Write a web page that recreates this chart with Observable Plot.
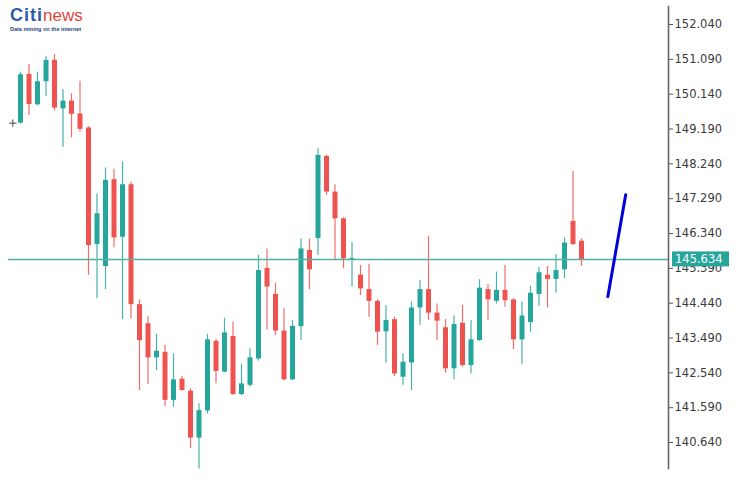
<!DOCTYPE html>
<html><head><meta charset="utf-8">
<script src="https://cdn.jsdelivr.net/npm/d3@7"></script>
<script src="https://cdn.jsdelivr.net/npm/@observablehq/plot@0.6"></script>
<style>
body{margin:0;background:#fff}
#wrap{position:relative;width:747px;height:480px}
#logo{position:absolute;left:10px;top:6px;font-family:"Liberation Sans",Arial,sans-serif;z-index:2;line-height:1}
#logo .t{white-space:nowrap}
#logo .citi{color:#2a5ca8;font-weight:bold;font-size:18px;letter-spacing:1px}
#logo .news{color:#e4433b;font-size:17px}
#logo .sub{font-size:5.5px;color:#24467c;font-weight:bold;margin-top:3px;white-space:nowrap}
</style></head>
<body>
<div id="wrap">
  <div id="logo"><div class="t"><span class="citi">Citi</span><span class="news">news</span></div><div class="sub">Data mining on the internet</div></div>
</div>
<script>
const opens  = [149.35,150.68,149.85,150.48,151.06,149.74,149.95,149.60,149.22,146.04,145.44,147.81,146.24,147.67,144.40,143.88,142.95,143.10,141.79,142.37,142.04,140.76,141.50,143.40,142.56,143.53,141.95,142.20,142.92,145.39,144.68,143.68,142.35,143.80,145.88,146.20,148.44,147.47,146.74,145.62,145.21,144.81,144.49,143.66,143.99,142.42,142.81,144.31,144.81,144.17,143.77,142.65,143.89,142.74,143.42,144.81,144.49,144.79,144.53,143.44,143.91,144.68,145.20,145.09,145.35,146.67,146.13];
const highs  = [150.74,150.95,150.74,151.17,151.22,150.27,150.15,150.49,149.25,147.42,148.13,148.09,148.29,147.74,144.53,144.08,143.59,143.29,143.06,142.44,142.11,141.70,143.59,143.45,144.03,143.92,142.77,143.20,145.74,145.92,144.99,144.29,143.97,146.19,146.19,148.65,148.48,147.67,146.77,146.10,145.47,145.50,144.53,144.38,144.06,143.06,144.47,145.06,146.27,144.42,143.99,144.10,144.38,143.97,145.08,144.95,145.29,145.47,144.56,144.47,144.90,145.41,145.44,145.77,146.22,148.04,146.20];
const lows   = [149.32,149.56,149.82,150.08,149.68,148.69,148.95,149.10,145.20,144.56,144.81,145.95,143.99,144.01,142.06,142.22,142.60,141.62,141.60,142.04,140.47,139.92,141.42,142.24,142.54,141.92,141.92,142.15,142.86,143.71,143.56,142.33,142.33,143.42,144.81,145.74,147.38,145.60,145.38,144.88,144.65,144.06,143.29,142.80,142.44,142.20,142.06,143.83,143.97,143.42,142.53,142.35,142.69,142.51,143.40,143.97,144.42,144.33,143.17,142.77,143.65,144.36,144.31,144.71,145.11,146.01,145.44];
const closes = [150.67,149.86,150.48,151.06,149.76,149.95,149.59,149.18,146.01,146.88,147.79,146.22,147.67,144.40,143.42,142.95,143.13,141.79,142.35,142.06,140.76,141.51,143.44,142.58,143.63,141.95,142.24,142.95,145.33,144.88,143.68,142.35,143.81,145.92,145.35,148.47,147.47,146.74,145.65,145.66,144.83,144.49,143.65,143.97,142.51,142.83,144.31,144.81,144.17,143.95,142.65,143.86,142.74,143.44,144.85,144.53,144.79,144.51,143.44,144.09,144.71,145.27,145.09,145.33,146.08,146.04,145.634];
const priceTicks = [140.64,141.59,142.54,143.49,144.44,145.39,146.34,147.29,148.24,149.19,150.14,151.09,152.04];
const currentPrice = 145.634;
const trendX = [69.1, 71.2];
const trendY = [144.62, 147.40];
const markerX = [-0.9];
const markerY = [149.35];

const candles = opens.map((o, i) => ({i, open: o, high: highs[i], low: lows[i], close: closes[i]}));
const up = candles.filter(d => d.close >= d.open);
const down = candles.filter(d => d.close < d.open);
const trend = trendX.map((x, k) => ({x, y: trendY[k]}));
const marker = markerX.map((x, k) => ({x, y: markerY[k]}));

const GREEN = "#26a69a", RED = "#ef5350";

const priceLabel = (index, scales, values, dimensions) => {
  const y = scales.y(currentPrice);
  const x0 = dimensions.width - dimensions.marginRight + 4;
  const g = d3.create("svg:g");
  g.append("rect").attr("x", x0).attr("y", y - 7.5).attr("width", 57).attr("height", 15).attr("fill", "#26a69a");
  g.append("text").attr("x", x0 + 3).attr("y", y).attr("dy", "0.35em")
    .attr("text-anchor", "start")
    .attr("fill", "#fff").attr("font-family", "DejaVu Sans").attr("font-size", 11.5)
    .text(currentPrice.toFixed(3));
  return g.node();
};

const chart = Plot.plot({
  width: 747,
  height: 480,
  marginLeft: 8,
  marginRight: 79,
  marginTop: 6,
  marginBottom: 12,
  style: {background: "#fff", fontFamily: "DejaVu Sans", fontSize: "11.5px", color: "#3a3a3a"},
  x: {domain: [-1.412, 76.235], axis: null},
  y: {domain: [139.932, 152.531], axis: null},
  marks: [
    Plot.ruleX(up, {x: "i", y1: "low", y2: "high", stroke: GREEN, strokeWidth: 1.2, strokeOpacity: 0.85}),
    Plot.ruleX(down, {x: "i", y1: "low", y2: "high", stroke: RED, strokeWidth: 1.2, strokeOpacity: 0.85}),
    Plot.ruleX(up, {x: "i", y1: "open", y2: "close", stroke: GREEN, strokeWidth: 5}),
    Plot.ruleX(down, {x: "i", y1: "open", y2: "close", stroke: RED, strokeWidth: 5}),
    Plot.ruleY([currentPrice], {stroke: "#4fb0a8", strokeWidth: 1.5}),
    Plot.line(trend, {x: "x", y: "y", stroke: "#0000dd", strokeWidth: 3}),
    Plot.dot(marker, {x: "x", y: "y", symbol: "plus", r: 2.5, stroke: "#444", strokeWidth: 1}),
    Plot.axisY(priceTicks, {anchor: "right", tickSize: 4, tickPadding: 2, tickFormat: d => d.toFixed(3), stroke: "#555", fill: "#3a3a3a"}),
    Plot.frame({anchor: "right", stroke: "#666", strokeWidth: 1.6}),
    priceLabel
  ]
});
document.getElementById("wrap").appendChild(chart);
</script>
</body></html>
